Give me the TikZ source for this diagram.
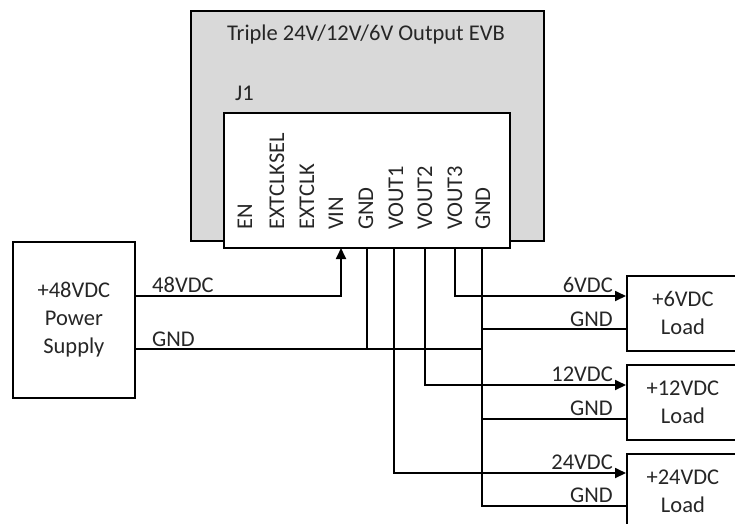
\documentclass[tikz,border=0pt]{standalone}
\usepackage{fontspec}
\setmainfont{Carlito}
\usetikzlibrary{arrows.meta}
\begin{document}
\begin{tikzpicture}[x=1pt,y=-1pt,
  lbl/.style={font=\fontsize{22.5}{28}\selectfont, text=black!85, inner sep=0pt},
  pin/.style={lbl, rotate=90, anchor=west},
  wire/.style={draw=black, line width=1.8pt},
  arr/.style={wire, -{Triangle[length=11pt,width=10pt]}},
  box/.style={draw=black, line width=1.8pt, fill=white},
  loadbox/.style={box, minimum width=112pt, minimum height=75pt, inner sep=0pt, align=center, lbl, anchor=north west}
]
\useasboundingbox (0,0) rectangle (735,523);
\clip (0,0) rectangle (735,523);
% EVB board
\node[draw=black, line width=1.8pt, fill=black!15, minimum width=353pt, minimum height=230pt, anchor=north west, inner sep=0pt] (evb) at (190,10) {};
\node[lbl, anchor=base] (title) at (366,40) {Triple 24V/12V/6V Output EVB};
\node[lbl, anchor=base west] (j1lbl) at (235,100) {J1};
\node[box, minimum width=286pt, minimum height=135pt, anchor=north west, inner sep=0pt] (j1) at (223,112) {};
% pin labels
\node[pin] (pEN) at (245,230) {EN};
\node[pin] (pECS) at (277,230) {EXTCLKSEL};
\node[pin] (pEC) at (307,230) {EXTCLK};
\node[pin] (pVIN) at (336,230) {VIN};
\node[pin] (pGND1) at (366,230) {GND};
\node[pin] (pV1) at (396,230) {VOUT1};
\node[pin] (pV2) at (425,230) {VOUT2};
\node[pin] (pV3) at (455,230) {VOUT3};
\node[pin] (pGND2) at (483,230) {GND};
% pin points at bottom of J1
\coordinate (cVIN) at (341,248);
\coordinate (cGND1) at (367,247);
\coordinate (cV1) at (394,247);
\coordinate (cV2) at (425,247);
\coordinate (cV3) at (455,247);
\coordinate (cGND2) at (482,247);
% power supply
\node[box, lbl, draw=black, line width=1.8pt, minimum width=122pt, minimum height=156pt, anchor=north west, align=center, inner sep=0pt] (ps) at (12,241) {+48VDC\\Power\\Supply};
% loads
\node[loadbox] (l1) at (626,275) {+6VDC\\Load};
\node[loadbox] (l2) at (626,364) {+12VDC\\Load};
\node[loadbox] (l3) at (626,453) {+24VDC\\Load};
% wires
\draw[arr] (ps.east |- 0,296) -| (cVIN);
\draw[wire] (ps.east |- 0,349) -- (cGND2 |- 0,349);
\draw[wire] (cGND1) -- (cGND1 |- 0,349);
\draw[wire] (cGND2) -- (cGND2 |- 0,506) -- (l3.west |- 0,506);
\draw[wire] (cGND2 |- 0,329) -- (l1.west |- 0,329);
\draw[wire] (cGND2 |- 0,419) -- (l2.west |- 0,419);
\draw[arr] (cV3) |- (l1.west |- 0,296);
\draw[arr] (cV2) |- (l2.west |- 0,385);
\draw[arr] (cV1) |- (l3.west |- 0,473);
% wire labels
\node[lbl, anchor=base west] (t48) at (152,292) {48VDC};
\node[lbl, anchor=base west] (tgnd) at (152,346) {GND};
\node[lbl, anchor=base east] (t6) at (613,292) {6VDC};
\node[lbl, anchor=base east] (tg1) at (613,326) {GND};
\node[lbl, anchor=base east] (t12) at (613,381) {12VDC};
\node[lbl, anchor=base east] (tg2) at (613,415) {GND};
\node[lbl, anchor=base east] (t24) at (613,469) {24VDC};
\node[lbl, anchor=base east] (tg3) at (613,502) {GND};
\end{tikzpicture}
\end{document}
